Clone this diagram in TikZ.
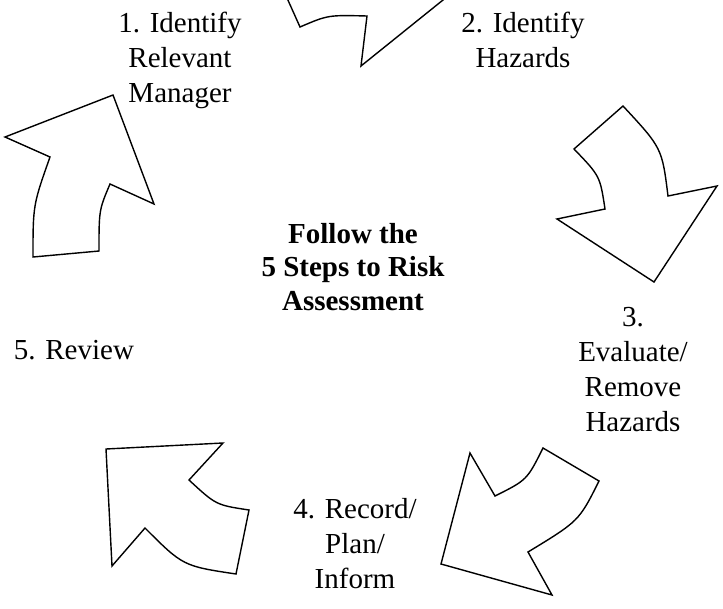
\documentclass[tikz,border=0pt]{standalone}
\usepackage{fontspec}
\setmainfont{Liberation Serif}
\begin{document}
\begin{tikzpicture}[x=1pt,y=-1pt,
  cyclearrow/.style={draw=black, fill=white, line width=1.4pt, line join=miter, miter limit=10},
  lbl/.style={font=\fontsize{29}{34.7}\selectfont, align=center, inner sep=0pt, anchor=base},
  title/.style={font=\fontsize{29}{33.5}\selectfont\bfseries, align=center, inner sep=0pt, anchor=base}]
\useasboundingbox (0,0) rectangle (723,608);
\clip (0,0) rectangle (723,608);
\fill[white] (0,0) rectangle (723,608);

% top arrow (runs off the upper edge)
\path[cyclearrow] (300,27) .. controls (328,15) .. (367,16) -- (361,66) -- (484,-33)
  -- (370,-90) -- (360,-55) .. controls (320,-60) .. (270,-40) -- cycle;

% right arrow, bending down
\path[cyclearrow] (574,149) .. controls (600,176) .. (605,209) -- (557,219) -- (654,282)
  -- (717,186) -- (668,196) .. controls (662,148) .. (623,106) -- cycle;

% lower right arrow
\path[cyclearrow] (543,448) -- (599,481) .. controls (579,521) .. (528,552) -- (552,595)
  -- (441,564) -- (470,453) -- (495,496) .. controls (527,480) .. cycle;

% lower left arrow
\path[cyclearrow] (106,449) -- (223,443) -- (189,480) .. controls (216,505) .. (249,510)
  -- (236,574) .. controls (183,566) .. (145,528) -- (112,566) -- cycle;

% upper left arrow
\path[cyclearrow] (113,95) -- (5,137) -- (50,157) .. controls (33,205) .. (33,257)
  -- (99,251) .. controls (99,210) .. (110,184) -- (154,204) -- cycle;

% step labels (anchored on the baseline of their last line)
\node[lbl] (s1) at (180,102) {1. Identify\\Relevant\\Manager};
\node[lbl] (s2) at (523,67) {2. Identify\\Hazards};
\node[lbl] (s3) at (633,431) {3.\\Evaluate/\\Remove\\Hazards};
\node[lbl] (s4) at (355,588) {4. Record/\\Plan/\\Inform};
\node[lbl] (s5) at (74,359) {5. Review};

% centre title
\node[title] (t) at (353,310) {Follow the\\5 Steps to Risk\\Assessment};
\end{tikzpicture}
\end{document}
